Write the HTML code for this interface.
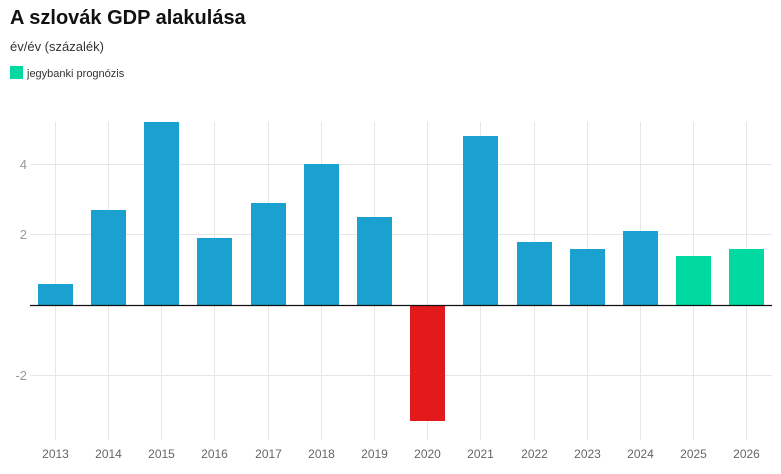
<!DOCTYPE html><html><head><style>body{margin:0;background:#fff;font-family:"Liberation Sans",Arial,sans-serif}</style></head><body>
<svg width="781" height="469" xmlns="http://www.w3.org/2000/svg" font-family="Liberation Sans, Arial, sans-serif">
<text x="10" y="24" font-size="20" font-weight="bold" fill="#111">A szlovák GDP alakulása</text>
<text x="10" y="51" font-size="13" fill="#333">év/év (százalék)</text>
<rect x="10" y="66" width="13" height="13" fill="#00d9a0"/>
<text x="27" y="77" font-size="11" fill="#333">jegybanki prognózis</text>
<g stroke="#e6e6e6" stroke-width="1">
<line x1="30" y1="164.5" x2="772" y2="164.5"/><line x1="30" y1="234.5" x2="772" y2="234.5"/><line x1="30" y1="375.5" x2="772" y2="375.5"/>
<g id="v"></g>
</g>
<g stroke="#e6e6e6">
<line x1="55.5" y1="122" x2="55.5" y2="440"/><line x1="108.5" y1="122" x2="108.5" y2="440"/><line x1="161.5" y1="122" x2="161.5" y2="440"/><line x1="214.5" y1="122" x2="214.5" y2="440"/><line x1="268.5" y1="122" x2="268.5" y2="440"/><line x1="321.5" y1="122" x2="321.5" y2="440"/><line x1="374.5" y1="122" x2="374.5" y2="440"/><line x1="427.5" y1="122" x2="427.5" y2="440"/><line x1="480.5" y1="122" x2="480.5" y2="440"/><line x1="534.5" y1="122" x2="534.5" y2="440"/><line x1="587.5" y1="122" x2="587.5" y2="440"/><line x1="640.5" y1="122" x2="640.5" y2="440"/><line x1="693.5" y1="122" x2="693.5" y2="440"/><line x1="746.5" y1="122" x2="746.5" y2="440"/>
</g>
<g fill="#1aa1cf">
<rect x="38" y="284" width="35" height="21"/>
<rect x="91" y="210" width="35" height="95"/>
<rect x="144" y="122" width="35" height="183"/>
<rect x="197" y="238" width="35" height="67"/>
<rect x="251" y="203" width="35" height="102"/>
<rect x="304" y="164" width="35" height="141"/>
<rect x="357" y="217" width="35" height="88"/>
<rect x="463" y="136" width="35" height="169"/>
<rect x="517" y="242" width="35" height="63"/>
<rect x="570" y="249" width="35" height="56"/>
<rect x="623" y="231" width="35" height="74"/>
</g>
<rect x="410" y="305" width="35" height="116" fill="#e31a1c"/>
<rect x="676" y="256" width="35" height="49" fill="#00d9a0"/>
<rect x="729" y="249" width="35" height="56" fill="#00d9a0"/>
<line x1="30" y1="305.5" x2="772" y2="305.5" stroke="#111" stroke-width="1.2"/>
<g font-size="13" fill="#999" text-anchor="end">
<text x="27" y="169">4</text><text x="27" y="239">2</text><text x="27" y="380">-2</text>
</g>
<g font-size="12" fill="#666" text-anchor="middle">
<text x="55.5" y="458">2013</text><text x="108.5" y="458">2014</text><text x="161.5" y="458">2015</text><text x="214.5" y="458">2016</text><text x="268.5" y="458">2017</text><text x="321.5" y="458">2018</text><text x="374.5" y="458">2019</text><text x="427.5" y="458">2020</text><text x="480.5" y="458">2021</text><text x="534.5" y="458">2022</text><text x="587.5" y="458">2023</text><text x="640.5" y="458">2024</text><text x="693.5" y="458">2025</text><text x="746.5" y="458">2026</text>
</g>
</svg></body></html>
